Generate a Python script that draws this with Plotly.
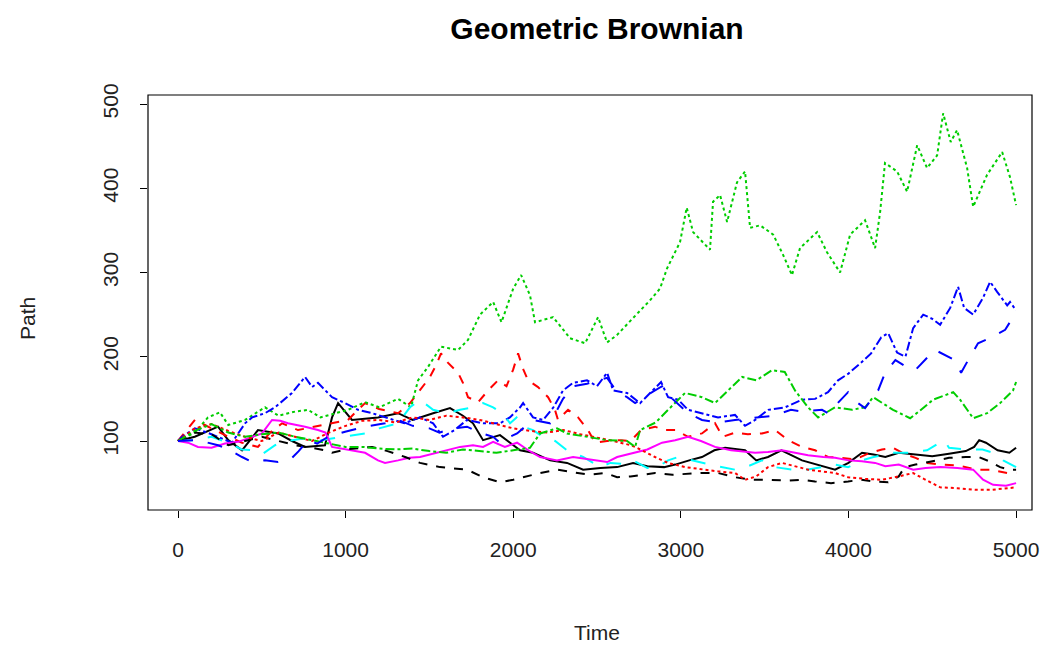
import plotly.graph_objects as go

# ---- data (time, path value) ----
black1 = [(0,100),(100,105),(239,117),(300,101),(382,89),(477,113),(597,109),(680,100),(758,93),(877,95),(919,128),(955,145),(1038,125),(1193,128),(1313,133),(1400,125),(1522,133),(1623,139),(1700,130),(1760,121),(1820,101),(1921,107),(1981,98),(2041,89),(2118,86),(2220,77),(2321,74),(2417,66),(2520,68),(2620,69),(2715,74),(2800,70),(2900,69),(2966,72),(3050,77),(3126,81),(3200,89),(3264,92),(3383,89),(3450,77),(3520,81),(3600,89),(3723,77),(3860,69),(3920,66),(4000,74),(4081,86),(4150,84),(4220,81),(4300,86),(4400,84),(4500,82),(4600,85),(4700,88),(4750,93),(4780,101),(4820,98),(4890,89),(4960,86),(5000,92)]
red1 = [(0,100),(101,125),(200,115),(300,105),(382,98),(477,93),(550,110),(621,121),(716,113),(817,117),(919,121),(1014,125),(1074,137),(1116,145),(1200,138),(1313,133),(1384,145),(1444,160),(1500,175),(1540,190),(1569,204),(1610,193),(1671,181),(1700,169),(1730,152),(1790,146),(1850,160),(1909,172),(1960,165),(2000,185),(2029,204),(2060,185),(2088,172),(2148,164),(2208,152),(2249,137),(2267,125),(2327,137),(2387,128),(2446,113),(2488,98),(2560,100),(2644,101),(2700,100),(2763,113),(2846,117),(2900,113),(2966,113),(3043,105),(3126,109),(3204,121),(3250,105),(3323,110),(3400,108),(3484,109),(3562,113),(3640,101),(3723,93),(3801,89),(3878,81),(3962,80),(4040,78),(4117,85),(4200,90),(4266,92),(4330,85),(4400,80),(4469,74),(4550,72),(4650,71),(4768,66),(4850,66),(4947,62),(5000,62)]
green1 = [(0,100),(100,110),(179,128),(250,134),(300,119),(400,125),(519,140),(600,130),(700,135),(776,137),(850,128),(1014,137),(1116,146),(1200,140),(1313,150),(1390,140),(1432,172),(1492,188),(1569,212),(1671,208),(1730,220),(1802,250),(1880,265),(1930,241),(2000,281),(2047,297),(2100,273),(2130,241),(2238,247),(2339,222),(2429,216),(2506,247),(2560,217),(2620,226),(2715,246),(2816,267),(2876,281),(2918,305),(2995,336),(3035,377),(3073,348),(3174,327),(3192,384),(3234,392),(3276,360),(3335,407),(3383,420),(3413,353),(3473,356),(3551,345),(3610,321),(3663,297),(3711,329),(3813,348),(3872,324),(3950,300),(4010,345),(4099,362),(4159,329),(4189,372),(4218,430),(4290,420),(4350,396),(4410,451),(4469,424),(4529,439),(4565,489),(4610,455),(4648,469),(4708,424),(4744,378),(4827,416),(4917,443),(4964,413),(5000,380)]
blue1 = [(0,100),(24,105),(101,115),(200,108),(322,98),(400,121),(442,128),(519,133),(579,140),(680,157),(758,176),(800,164),(835,169),(919,152),(997,145),(1074,137),(1158,133),(1277,125),(1350,121),(1444,128),(1522,121),(1581,105),(1650,113),(1724,125),(1820,121),(1921,121),(1980,128),(2041,140),(2059,145),(2118,128),(2178,125),(2240,140),(2297,160),(2357,169),(2440,172),(2500,165),(2560,181),(2596,160),(2679,157),(2757,145),(2830,160),(2882,170),(2924,152),(2984,149),(3043,137),(3126,133),(3222,128),(3323,131),(3383,118),(3443,125),(3520,137),(3622,140),(3723,149),(3801,150),(3878,158),(3938,172),(4000,180),(4075,193),(4135,204),(4195,223),(4237,228),(4290,205),(4340,200),(4386,234),(4446,250),(4500,245),(4547,238),(4607,258),(4654,283),(4690,258),(4744,250),(4803,270),(4845,289),(4887,277),(4947,261),(4964,265),(5000,255)]
cyan1 = [(0,100),(83,101),(200,105),(300,98),(380,90),(442,89),(500,84),(579,95),(650,100),(750,103),(850,101),(950,104),(1050,107),(1116,109),(1200,115),(1313,121),(1384,140),(1444,149),(1522,137),(1600,133),(1683,137),(1760,140),(1820,145),(1880,140),(1940,132),(1981,121),(2020,128),(2059,117),(2118,113),(2178,105),(2250,100),(2321,89),(2417,81),(2518,69),(2580,74),(2650,73),(2715,77),(2800,68),(2860,69),(2924,77),(2984,81),(3050,78),(3126,74),(3220,70),(3323,66),(3400,70),(3484,77),(3560,69),(3663,66),(3750,66),(3842,69),(3920,72),(3998,69),(4081,77),(4150,81),(4266,86),(4350,86),(4469,89),(4520,95),(4547,99),(4570,101),(4600,92),(4700,90),(4800,90),(4863,86),(4923,77),(5000,69)]
magenta1 = [(0,100),(60,98),(119,93),(200,92),(280,97),(358,99),(430,104),(501,109),(561,125),(610,124),(656,121),(758,117),(835,113),(880,110),(919,93),(1038,89),(1116,86),(1193,77),(1235,74),(1313,77),(1380,80),(1444,81),(1550,86),(1683,93),(1760,95),(1820,93),(1880,99),(1950,93),(2023,98),(2090,89),(2160,81),(2261,77),(2357,81),(2460,78),(2560,75),(2620,81),(2715,86),(2800,90),(2888,98),(2966,101),(3043,105),(3120,100),(3204,93),(3300,89),(3443,86),(3520,87),(3604,89),(3680,86),(3759,83),(3850,81),(3920,80),(4000,77),(4080,76),(4159,74),(4220,70),(4300,72),(4386,66),(4460,68),(4550,69),(4650,68),(4744,66),(4803,54),(4863,48),(4940,47),(5000,50)]
black2 = [(0,100),(100,110),(200,108),(300,95),(400,100),(500,105),(600,100),(700,95),(800,92),(877,89),(919,86),(1000,90),(1158,93),(1250,88),(1355,81),(1444,74),(1563,69),(1724,66),(1820,57),(1921,51),(2000,54),(2080,58),(2160,62),(2261,66),(2350,63),(2450,60),(2550,62),(2620,57),(2700,58),(2846,62),(2950,60),(3126,62),(3222,62),(3323,57),(3425,54),(3520,54),(3650,53),(3723,54),(3800,52),(3896,50),(3998,52),(4075,54),(4150,52),(4237,51),(4300,58),(4335,69),(4400,72),(4500,76),(4600,80),(4700,81),(4778,81),(4850,75),(4905,69),(4960,66),(5000,66)]
red2 = [(0,100),(100,115),(200,120),(300,112),(400,105),(500,100),(600,110),(700,105),(800,100),(900,110),(1000,118),(1100,124),(1200,125),(1300,122),(1400,128),(1500,125),(1600,130),(1700,128),(1800,125),(1900,120),(2000,115),(2100,112),(2200,110),(2300,113),(2400,108),(2500,104),(2600,100),(2700,95),(2727,93),(2846,81),(2924,74),(3025,69),(3126,66),(3220,64),(3323,62),(3383,54),(3450,58),(3520,69),(3604,74),(3680,70),(3759,66),(3920,62),(3998,57),(4100,55),(4200,54),(4300,58),(4386,62),(4450,55),(4547,45),(4650,44),(4768,42),(4850,42),(4982,44),(5000,45)]
green2 = [(0,100),(100,112),(200,120),(300,110),(400,105),(500,108),(600,110),(700,105),(800,101),(900,97),(1000,93),(1100,93),(1200,91),(1300,90),(1400,91),(1500,88),(1600,86),(1700,90),(1800,88),(1900,86),(2000,89),(2100,92),(2160,109),(2261,115),(2321,109),(2440,105),(2560,101),(2679,100),(2727,93),(2757,113),(2850,122),(2924,137),(3025,157),(3126,152),(3204,145),(3282,160),(3366,176),(3450,172),(3544,184),(3620,182),(3681,160),(3759,140),(3819,128),(3920,140),(4021,137),(4100,140),(4147,152),(4266,137),(4368,127),(4420,135),(4505,149),(4625,158),(4666,149),(4744,127),(4827,133),(4905,145),(4982,160),(5000,170)]
blue2 = [(0,100),(119,101),(239,95),(300,90),(382,81),(442,75),(519,77),(597,75),(680,80),(720,88),(776,101),(830,97),(895,105),(997,111),(1116,117),(1235,121),(1313,125),(1400,118),(1500,115),(1560,110),(1620,114),(1724,117),(1800,110),(1880,105),(1921,98),(1970,104),(2023,109),(2118,125),(2220,121),(2297,150),(2357,165),(2440,168),(2560,175),(2620,158),(2679,152),(2727,145),(2804,155),(2888,165),(2950,150),(3043,133),(3126,125),(3222,122),(3323,125),(3443,128),(3550,130),(3657,137),(3723,135),(3842,137),(3878,133),(3998,158),(4057,145),(4099,139),(4177,160),(4219,181),(4280,196),(4330,190),(4398,184),(4475,200),(4517,208),(4636,196),(4672,181),(4714,196),(4773,216),(4851,223),(4935,232),(4982,247),(5000,240)]

series_names = ["black1", "red1", "green1", "blue1", "cyan1", "magenta1", "black2", "red2", "green2", "blue2"]
series_data = [black1, red1, green1, blue1, cyan1, magenta1, black2, red2, green2, blue2]
line_colors = ["#000000", "#FF0000", "#00CD00", "#0000FF", "#00FFFF", "#FF00FF",
               "#000000", "#FF0000", "#00CD00", "#0000FF"]
line_dashes = ["solid", "dash", "dot", "dashdot", "longdash",
               "solid", "dash", "dot", "dashdot", "longdash"]

x_ticks = [0, 1000, 2000, 3000, 4000, 5000]
y_ticks = [100, 200, 300, 400, 500]

FONT = "Liberation Sans, Arial, sans-serif"

fig = go.Figure()
for name, pts, col, dash in zip(series_names, series_data, line_colors, line_dashes):
    fig.add_trace(go.Scatter(
        x=[p[0] for p in pts], y=[p[1] for p in pts], mode="lines", name=name,
        line=dict(color=col, width=2, dash=dash), showlegend=False,
        hoverinfo="skip"))

# the page body adds an 8px offset, so the figure is drawn 8px smaller
OFF = 8
W, H = 1054 - OFF, 653 - OFF
L, T = 148 - OFF, 95 - OFF
R, B = 22, 143
PW, PH = W - L - R, H - T - B

fig.update_layout(
    width=W, height=H,
    margin=dict(l=L, r=R, t=T, b=B),
    paper_bgcolor="white", plot_bgcolor="white",
    font=dict(family=FONT, color="black", size=21),
    title=dict(text="<b>Geometric Brownian</b>", x=(597 - 148) / PW, xref="paper",
               xanchor="center",
               y=1 - 20 / H, yref="container", yanchor="middle",
               font=dict(family=FONT, size=30, color="black")),
    xaxis=dict(range=[-179, 5095], tickmode="array", tickvals=x_ticks,
               ticktext=[str(v) for v in x_ticks],
               showgrid=False, zeroline=False, showline=False,
               ticks="outside", ticklen=7, tickwidth=1, tickcolor="black",
               ticklabelstandoff=14,
               tickfont=dict(family=FONT, size=21, color="#222222")),
    yaxis=dict(range=[18.1, 510.7], tickmode="array", tickvals=y_ticks,
               ticktext=[str(v) for v in y_ticks], tickangle=-90,
               showgrid=False, zeroline=False, showline=False,
               ticks="outside", ticklen=7, tickwidth=1, tickcolor="black",
               ticklabelstandoff=14,
               tickfont=dict(family=FONT, size=21, color="#222222")),
    shapes=[dict(type="rect", xref="paper", yref="paper", x0=0, y0=0, x1=1, y1=1,
                 line=dict(color="black", width=1.2), fillcolor="rgba(0,0,0,0)",
                 layer="above")],
    annotations=[
        dict(text="Time", xref="paper", yref="paper", x=(597 - 148) / PW,
             y=-(632 - 510) / PH, showarrow=False,
             xanchor="center", yanchor="middle",
             font=dict(family=FONT, size=21, color="#222222")),
        dict(text="Path", xref="paper", yref="paper", x=-(148 - 27) / PW,
             y=(510 - 318) / PH, showarrow=False, textangle=-90,
             xanchor="center", yanchor="middle",
             font=dict(family=FONT, size=21, color="#222222")),
    ],
)

fig.write_html("out.html")
